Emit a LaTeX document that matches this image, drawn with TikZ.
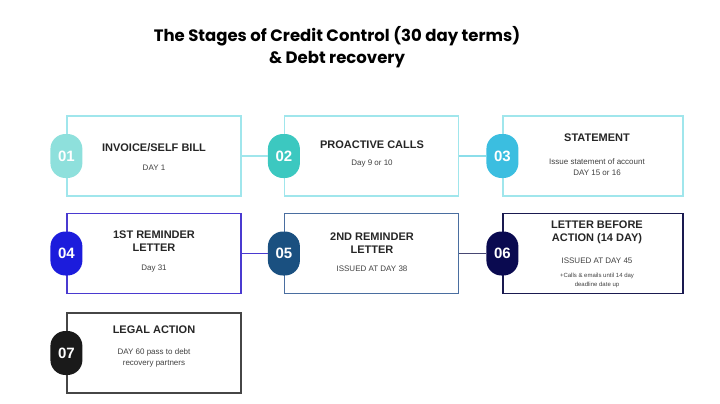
\documentclass[tikz,border=0pt]{standalone}
\usepackage{fontspec}
\setmainfont{Liberation Sans}
\newfontfamily\titlefont{Poppins}
\definecolor{cOne}{RGB}{142,224,220}
\definecolor{cTwo}{RGB}{60,200,192}
\definecolor{cThree}{RGB}{59,190,224}
\definecolor{cFour}{RGB}{28,28,220}
\definecolor{cFive}{RGB}{26,80,128}
\definecolor{cSix}{RGB}{10,10,80}
\definecolor{cSeven}{RGB}{26,26,26}
\definecolor{bRowOne}{RGB}{160,230,236}
\definecolor{bFour}{RGB}{74,58,208}
\definecolor{bFive}{RGB}{74,110,160}
\definecolor{bSix}{RGB}{26,26,80}
\definecolor{bSeven}{RGB}{70,70,70}
\tikzset{every picture/.style={line width=0.75pt}}
\tikzset{
	stage/.style={draw, line width=1.2pt, minimum width=174pt, minimum height=80pt, inner sep=0pt},
	badge/.style={rounded corners=15pt, minimum width=32pt, minimum height=44pt, text=white, font=\bfseries\fontsize{15}{15}\selectfont},
	head/.style={font=\bfseries\fontsize{11}{13}\selectfont, align=center, text=black!85},
	sub/.style={font=\fontsize{8}{11}\selectfont, align=center, text=black!75},
	link/.style={line width=1.2pt}}
\begin{document}
\begin{tikzpicture}[x=1pt,y=1pt,yscale=-1]
	\useasboundingbox (0,0) rectangle (720,404);

	% Title
	\node[font=\titlefont\bfseries\fontsize{16.5}{22}\selectfont, align=center] (title) at (337,47) {The Stages of Credit Control (30 day terms)\\\& Debt recovery};

	% Boxes
	\node[stage, draw=bRowOne] (s1) at (154,156) {};
	\node[stage, draw=bRowOne] (s2) at (371.5,156) {};
	\node[stage, draw=bRowOne, minimum width=180pt] (s3) at (593,156) {};
	\node[stage, draw=bFour] (s4) at (154,253.5) {};
	\node[stage, draw=bFive] (s5) at (371.5,253.5) {};
	\node[stage, draw=bSix, minimum width=180pt] (s6) at (593,253.5) {};
	\node[stage, draw=bSeven] (s7) at (154,353) {};

	% Badges
	\node[badge, fill=cOne] (b1) at (s1.west) {01};
	\node[badge, fill=cTwo] (b2) at (s2.west) {02};
	\node[badge, fill=cThree] (b3) at (s3.west) {03};
	\node[badge, fill=cFour] (b4) at (s4.west) {04};
	\node[badge, fill=cFive] (b5) at (s5.west) {05};
	\node[badge, fill=cSix] (b6) at (s6.west) {06};
	\node[badge, fill=cSeven] (b7) at (s7.west) {07};

	% Links
	\draw[link, draw=bRowOne] (s1.east) -- (b2.west);
	\draw[link, draw=bRowOne!80!cThree] (s2.east) -- (b3.west);
	\draw[link, draw=bFour] (s4.east) -- (b5.west);
	\draw[link, draw=bSix!80] (s5.east) -- (b6.west);

	% Text Node
	\node[head] (h1) at (154,148) {INVOICE/SELF BILL};
	\node[sub] (t1) at (154,168) {DAY 1};
	\node[head] (h2) at (372,145) {PROACTIVE CALLS};
	\node[sub] (t2) at (372,164) {Day 9 or 10};
	\node[head] (h3) at (597,138) {STATEMENT};
	\node[sub] (t3) at (597,167) {Issue statement of account\\DAY 15 or 16};
	\node[head] (h4) at (154,241) {1ST REMINDER\\LETTER};
	\node[sub] (t4) at (154,269) {Day 31};
	\node[head] (h5) at (372,243) {2ND REMINDER\\LETTER};
	\node[sub] (t5) at (372,269) {ISSUED AT DAY 38};
	\node[head] (h6) at (597,232) {LETTER BEFORE\\ACTION (14 DAY)};
	\node[sub] (t6) at (597,261) {ISSUED AT DAY 45};
	\node[font=\fontsize{6}{9}\selectfont, align=center, text=black!75] (n6) at (597,280) {+Calls \& emails until 14 day\\deadline date up};
	\node[head] (h7) at (154,330) {LEGAL ACTION};
	\node[sub] (t7) at (154,358) {DAY 60 pass to debt\\recovery partners};
\end{tikzpicture}
\end{document}
